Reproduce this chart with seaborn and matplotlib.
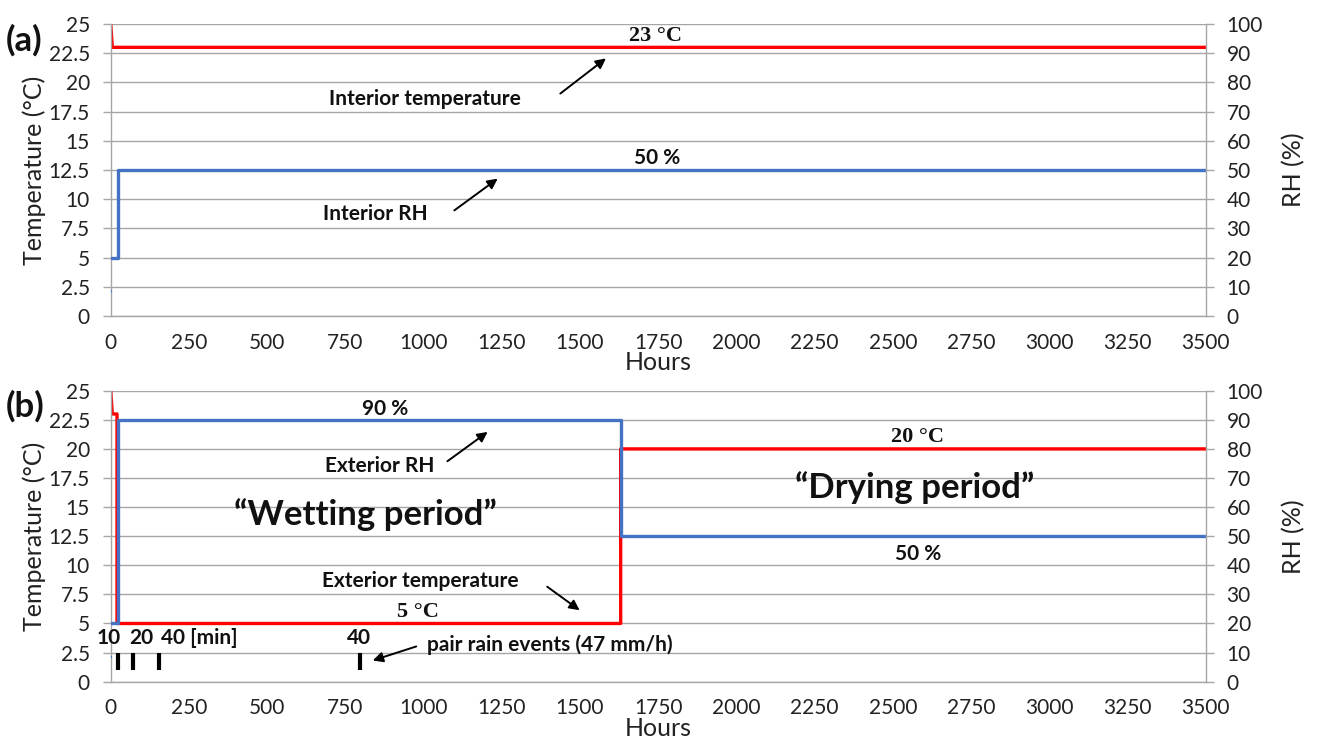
import matplotlib
matplotlib.use("Agg")
import matplotlib.pyplot as plt
import seaborn as sns
import pandas as pd

# --- boundary conditions (hours, °C and %RH) ---
int_temp_hours = [0, 5, 3500]
int_temp = [25, 23, 23]
int_rh_hours = [0, 24, 24, 3500]
int_rh = [20, 20, 50, 50]

ext_temp_hours = [0, 5, 5, 20, 20, 1630, 1630, 3500]
ext_temp = [25, 23, 23, 23, 5, 5, 20, 20]
ext_rh_hours = [0, 24, 24, 1630, 1630, 3500]
ext_rh = [20, 20, 90, 90, 50, 50]

start_rh_hours = [0]
start_rh = [8.5]

# rain events: start hour and duration label
rain_hours = [24, 72, 154, 797]
rain_labels = ["10", "20", "40 [min]", "40"]
rain_bottom, rain_top = 1.0, 2.5

hour_ticks = list(range(0, 3501, 250))
temp_ticks = [0, 2.5, 5, 7.5, 10, 12.5, 15, 17.5, 20, 22.5, 25]
rh_ticks = list(range(0, 101, 10))

RED = "#FF0000"
BLUE = "#4472C4"
GRID = "#A6A6A6"
TXT = "#222222"

sns.set_theme(style="white")
plt.rcParams["font.family"] = ["Lato", "DejaVu Sans"]

fig = plt.figure(figsize=(13.2, 7.38), dpi=100)
ax_a = fig.add_axes([0.0839, 0.5718, 0.8295, 0.3957])
ax_b = fig.add_axes([0.0839, 0.0763, 0.8295, 0.3943])


def style_axes(ax, ax2):
    ax.set_xlim(0, 3500)
    ax.set_ylim(0, 25)
    ax2.set_ylim(0, 100)
    ax.set_xticks(hour_ticks)
    ax.set_xticklabels([str(t) for t in hour_ticks])
    ax.set_yticks(temp_ticks)
    ax.set_yticklabels([f"{t:g}" for t in temp_ticks])
    ax2.set_yticks(rh_ticks)
    ax2.set_yticklabels([str(t) for t in rh_ticks])
    ax.grid(axis="y", color=GRID, lw=1.0)
    ax.grid(axis="x", visible=False)
    ax2.grid(False)
    for a in (ax, ax2):
        for s in a.spines.values():
            s.set_visible(False)
    ax.spines["left"].set_visible(True)
    ax.spines["bottom"].set_visible(True)
    ax2.spines["right"].set_visible(True)
    for s in (ax.spines["left"], ax.spines["bottom"], ax2.spines["right"]):
        s.set_color(GRID)
        s.set_linewidth(1.0)
    ax.tick_params(axis="y", direction="out", length=6, width=1,
                   color=GRID, labelsize=15, labelcolor=TXT, pad=9)
    ax.tick_params(axis="x", direction="out", length=6, width=1,
                   color=GRID, labelsize=15, labelcolor=TXT, pad=6)
    ax2.tick_params(axis="y", direction="out", length=6, width=1,
                    color=GRID, labelsize=15, labelcolor=TXT, pad=9)
    ax.set_ylabel("Temperature (°C)", fontsize=18, color=TXT, labelpad=2)
    ax2.set_ylabel("RH (%)", fontsize=18, color=TXT, labelpad=14)
    ax.set_xlabel("Hours", fontsize=18, color=TXT, labelpad=-1)


def draw_series(ax, hours, values, color):
    df = pd.DataFrame({"h": hours, "v": values})
    sns.lineplot(data=df, x="h", y="v", ax=ax, color=color, lw=2.4,
                 sort=False, estimator=None)
    ax.set_xlabel("")
    ax.set_ylabel("")


bold = dict(fontsize=15, fontweight="bold", color="#111111")
serif_bold = dict(fontsize=16, fontweight="bold", color="#111111",
                  family=["Liberation Serif", "DejaVu Serif"])
arrow = dict(arrowstyle="-|>", color="black", lw=1.4, mutation_scale=15)

# ---------------- (a) interior conditions ----------------
ax_a2 = ax_a.twinx()
draw_series(ax_a, int_temp_hours, int_temp, RED)
draw_series(ax_a2, int_rh_hours, int_rh, BLUE)
sns.scatterplot(x=start_rh_hours, y=start_rh, ax=ax_a2, color=BLUE, s=4,
                edgecolor="none")
style_axes(ax_a, ax_a2)

ax_a.text(1740, 24.0, "23 °C", ha="center", va="center", **serif_bold)
ax_a.text(1005, 18.6, "Interior temperature", ha="center", va="center", **bold)
ax_a.annotate("", xy=(1590, 22.2), xytext=(1430, 18.9), arrowprops=arrow)
ax_a.text(1746, 13.5, "50 %", ha="center", va="center", **bold)
ax_a.text(845, 8.7, "Interior RH", ha="center", va="center", **bold)
ax_a.annotate("", xy=(1244, 11.9), xytext=(1091, 8.9), arrowprops=arrow)

# ---------------- (b) exterior conditions ----------------
ax_b2 = ax_b.twinx()
draw_series(ax_b, ext_temp_hours, ext_temp, RED)
draw_series(ax_b2, ext_rh_hours, ext_rh, BLUE)
sns.scatterplot(x=start_rh_hours, y=start_rh, ax=ax_b2, color=BLUE, s=4,
                edgecolor="none")
style_axes(ax_b, ax_b2)

ax_b.vlines(rain_hours, rain_bottom, rain_top, colors="black", lw=3)
rain_text_x = [-8, 97, 160, 792]
rain_text_ha = ["center", "center", "left", "center"]
for x, lab, ha in zip(rain_text_x, rain_labels, rain_text_ha):
    ax_b.text(x, 3.75, lab, ha=ha, va="center", **bold)
ax_b.text(1404, 3.15, "pair rain events (47 mm/h)", ha="center", va="center", **bold)
ax_b.annotate("", xy=(829, 1.75), xytext=(985, 3.1), arrowprops=arrow)

ax_b.text(877, 23.4, "90 %", ha="center", va="center", **bold)
ax_b.text(861, 18.5, "Exterior RH", ha="center", va="center", **bold)
ax_b.annotate("", xy=(1212, 21.6), xytext=(1069, 18.8), arrowprops=arrow)
ax_b.text(813, 14.4, "\u201cWetting period\u201d", ha="center", va="center",
          fontsize=25, fontweight="bold", color="#111111")
ax_b.text(989, 8.65, "Exterior temperature", ha="center", va="center", **bold)
ax_b.annotate("", xy=(1506, 6.0), xytext=(1388, 8.3), arrowprops=arrow)
ax_b.text(982, 6.0, "5 °C", ha="center", va="center", **serif_bold)

ax_b.text(2580, 21.0, "20 °C", ha="center", va="center", **serif_bold)
ax_b.text(2570, 16.7, "\u201cDrying period\u201d", ha="center", va="center",
          fontsize=25, fontweight="bold", color="#111111")
ax_b.text(2580, 11.0, "50 %", ha="center", va="center", **bold)

fig.text(0.004, 0.945, "(a)", fontsize=25, fontweight="bold", color="#111111",
         va="center", ha="left")
fig.text(0.004, 0.45, "(b)", fontsize=25, fontweight="bold", color="#111111",
         va="center", ha="left")

fig.savefig("out.png", dpi=100)
